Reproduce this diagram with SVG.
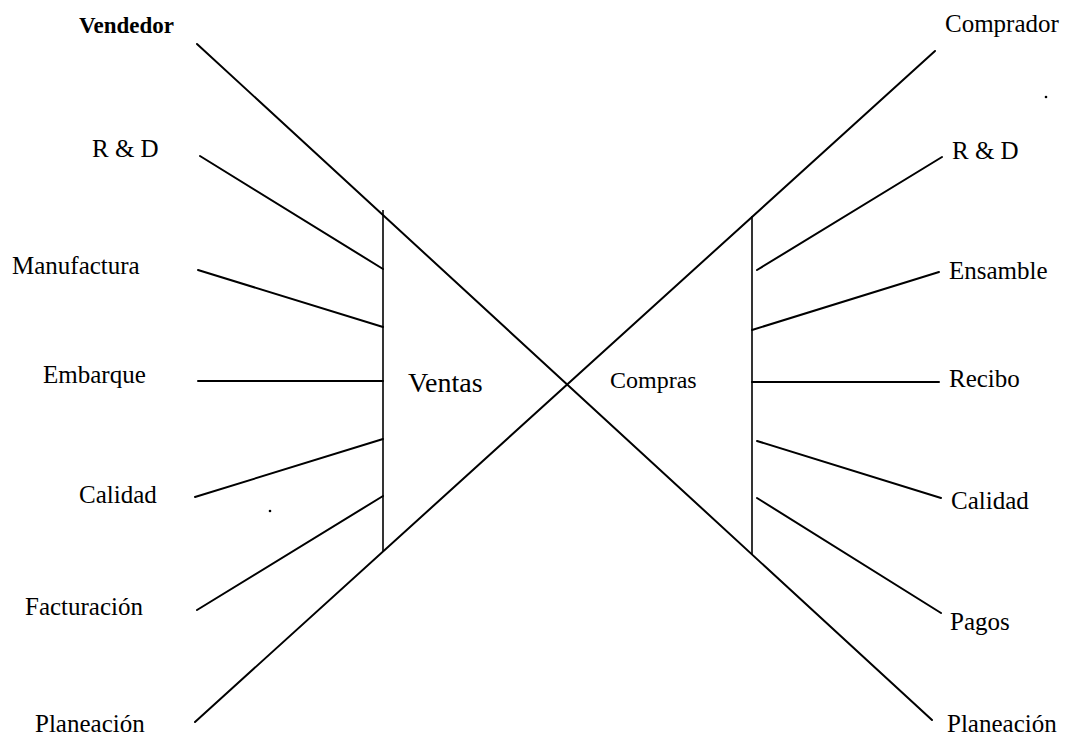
<svg xmlns="http://www.w3.org/2000/svg" width="1067" height="745" viewBox="0 0 1067 745">
<style>
.ln{stroke:#000;stroke-width:2;fill:none;stroke-linecap:round}
.bar{stroke:#000;stroke-width:1.6;fill:none}
.t{font-family:"Liberation Serif","Times New Roman",serif;font-size:25px;fill:#000}
.b{font-weight:bold;font-size:23px}
.c{font-size:28px}
.c2{font-size:24px}
</style>
<rect width="1067" height="745" fill="#fff"/>
<g id="connectors">
<line class="ln" x1="197" y1="44" x2="932" y2="720"/>
<line class="ln" x1="935" y1="51" x2="195" y2="722"/>
<line class="bar" x1="383" y1="210" x2="383" y2="551"/>
<line class="bar" x1="752" y1="216" x2="752" y2="554"/>
<line class="ln" x1="200" y1="156" x2="383" y2="269"/>
<line class="ln" x1="198" y1="270" x2="383" y2="327"/>
<line class="ln" x1="198" y1="381" x2="383" y2="381"/>
<line class="ln" x1="195" y1="497" x2="383" y2="439"/>
<line class="ln" x1="197" y1="610" x2="383" y2="496"/>
<line class="ln" x1="757" y1="270" x2="942" y2="157"/>
<line class="ln" x1="752" y1="330" x2="939" y2="272"/>
<line class="ln" x1="752" y1="382" x2="939" y2="382"/>
<line class="ln" x1="757" y1="441" x2="941" y2="498"/>
<line class="ln" x1="757" y1="498" x2="941" y2="613"/>
<circle cx="270" cy="511" r="1.3" fill="#000"/>
<circle cx="1046" cy="97" r="1.3" fill="#000"/>
</g>
<g id="vendedor"><text class="t b" x="79" y="33">Vendedor</text></g>
<g id="rd-left"><text class="t" x="92" y="157">R &amp; D</text></g>
<g id="manufactura"><text class="t" x="12" y="274">Manufactura</text></g>
<g id="embarque"><text class="t" x="43" y="383">Embarque</text></g>
<g id="calidad-left"><text class="t" x="79" y="503">Calidad</text></g>
<g id="facturacion"><text class="t" x="25" y="615">Facturación</text></g>
<g id="planeacion-left"><text class="t" x="35" y="732">Planeación</text></g>
<g id="comprador"><text class="t" x="945" y="32">Comprador</text></g>
<g id="rd-right"><text class="t" x="952" y="159">R &amp; D</text></g>
<g id="ensamble"><text class="t" x="949" y="279">Ensamble</text></g>
<g id="recibo"><text class="t" x="949" y="387">Recibo</text></g>
<g id="calidad-right"><text class="t" x="951" y="509">Calidad</text></g>
<g id="pagos"><text class="t" x="950" y="630">Pagos</text></g>
<g id="planeacion-right"><text class="t" x="947" y="732">Planeación</text></g>
<g id="ventas"><text class="t c" x="408" y="392">Ventas</text></g>
<g id="compras"><text class="t c2" x="610" y="388">Compras</text></g>
</svg>
